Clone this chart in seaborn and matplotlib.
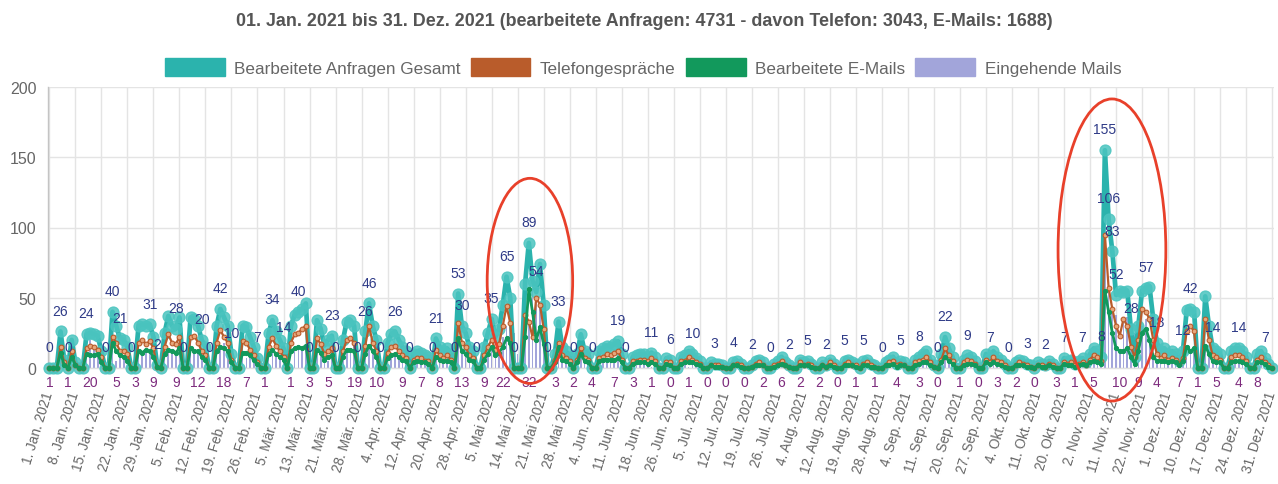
import numpy as np
import pandas as pd
import matplotlib
matplotlib.use("Agg")
import matplotlib.pyplot as plt
from matplotlib.patches import Ellipse, Patch
import seaborn as sns

title = "01. Jan. 2021 bis 31. Dez. 2021 (bearbeitete Anfragen: 4731 - davon Telefon: 3043, E-Mails: 1688)"
series_names = ["Bearbeitete Anfragen Gesamt", "Telefongespräche", "Bearbeitete E-Mails", "Eingehende Mails"]

tick_labels = [
    "1. Jan. 2021", "8. Jan. 2021", "15. Jan. 2021", "22. Jan. 2021", "29. Jan. 2021",
    "5. Feb. 2021", "12. Feb. 2021", "19. Feb. 2021", "26. Feb. 2021",
    "5. Mär. 2021", "13. Mär. 2021", "21. Mär. 2021", "28. Mär. 2021",
    "4. Apr. 2021", "12. Apr. 2021", "20. Apr. 2021", "28. Apr. 2021",
    "5. Mai 2021", "14. Mai 2021", "21. Mai 2021", "28. Mai 2021",
    "4. Jun. 2021", "11. Jun. 2021", "18. Jun. 2021", "26. Jun. 2021",
    "5. Jul. 2021", "12. Jul. 2021", "19. Jul. 2021", "26. Jul. 2021",
    "4. Aug. 2021", "12. Aug. 2021", "19. Aug. 2021", "28. Aug. 2021",
    "4. Sep. 2021", "11. Sep. 2021", "20. Sep. 2021", "27. Sep. 2021",
    "4. Okt. 2021", "11. Okt. 2021", "20. Okt. 2021",
    "2. Nov. 2021", "11. Nov. 2021", "22. Nov. 2021",
    "1. Dez. 2021", "10. Dez. 2021", "17. Dez. 2021", "24. Dez. 2021", "31. Dez. 2021",
]
tick_every = 7

gesamt = [
    0, 0, 0, 26, 6, 0, 20,
    4, 0, 0, 24, 25, 24, 23,
    12, 0, 0, 40, 30, 21, 20,
    15, 0, 0, 30, 31, 30, 31,
    22, 2, 0, 25, 37, 30, 28,
    36, 0, 0, 36, 35, 30, 20,
    15, 0, 0, 30, 42, 36, 30,
    10, 0, 0, 30, 29, 22, 15,
    7, 0, 0, 25, 34, 26, 20,
    14, 0, 30, 38, 40, 42, 46,
    0, 0, 34, 28, 16, 20, 23,
    0, 0, 20, 33, 34, 30, 0,
    0, 26, 46, 30, 20, 0, 0,
    18, 24, 26, 20, 15, 12, 0,
    10, 12, 11, 9, 8, 0, 21,
    15, 12, 14, 10, 0, 53, 30,
    25, 15, 12, 0, 0, 15, 25,
    35, 22, 28, 45, 65, 50, 0,
    0, 0, 60, 89, 62, 54, 74,
    45, 0, 0, 10, 33, 15, 12,
    8, 0, 10, 24, 12, 10, 0,
    0, 12, 14, 16, 15, 17, 19,
    10, 0, 0, 8, 9, 10, 10,
    8, 11, 8, 0, 0, 7, 6,
    0, 0, 8, 9, 12, 10, 7,
    5, 0, 0, 4, 3, 3, 2,
    0, 0, 4, 5, 3, 0, 0,
    2, 5, 6, 4, 0, 0, 3,
    5, 8, 4, 2, 0, 0, 6,
    4, 5, 3, 0, 0, 4, 2,
    6, 3, 0, 0, 5, 6, 4,
    3, 0, 5, 6, 3, 2, 0,
    0, 4, 6, 8, 3, 5, 4,
    0, 0, 6, 8, 10, 12, 6,
    2, 0, 10, 22, 14, 8, 0,
    0, 6, 9, 8, 5, 0, 0,
    10, 7, 12, 8, 6, 3, 0,
    0, 4, 6, 5, 3, 2, 0,
    4, 3, 2, 5, 3, 0, 0,
    7, 5, 6, 3, 5, 7, 4,
    10, 14, 12, 8, 155, 106, 83,
    52, 55, 54, 55, 28, 8, 30,
    55, 57, 58, 35, 18, 12, 14,
    10, 12, 10, 5, 12, 41, 42,
    40, 0, 0, 51, 30, 14, 12,
    10, 0, 0, 12, 14, 14, 12,
    8, 0, 0, 10, 12, 7, 3,
    0,
]

telefon = [
    0, 0, 0, 15, 4, 0, 12,
    2, 0, 0, 14, 16, 15, 13,
    8, 0, 0, 22, 18, 12, 12,
    10, 0, 0, 18, 20, 17, 19,
    14, 1, 0, 15, 24, 18, 17,
    22, 0, 0, 22, 23, 18, 12,
    9, 0, 0, 18, 27, 22, 18,
    6, 0, 0, 19, 18, 13, 9,
    4, 0, 0, 15, 21, 16, 12,
    8, 0, 18, 24, 25, 28, 30,
    0, 0, 21, 17, 10, 12, 14,
    0, 0, 12, 20, 21, 18, 0,
    0, 16, 30, 18, 12, 0, 0,
    11, 15, 16, 12, 9, 7, 0,
    6, 7, 7, 5, 5, 0, 13,
    9, 7, 9, 6, 0, 32, 18,
    15, 9, 7, 0, 0, 9, 15,
    20, 13, 17, 30, 44, 32, 0,
    0, 0, 38, 33, 22, 50, 45,
    28, 0, 0, 6, 18, 9, 7,
    5, 0, 6, 14, 7, 6, 0,
    0, 7, 8, 10, 9, 11, 12,
    6, 0, 0, 5, 5, 6, 6,
    5, 7, 5, 0, 0, 4, 4,
    0, 0, 5, 5, 8, 6, 4,
    3, 0, 0, 2, 2, 2, 1,
    0, 0, 2, 3, 2, 0, 0,
    1, 3, 4, 2, 0, 0, 2,
    3, 5, 2, 1, 0, 0, 4,
    2, 3, 2, 0, 0, 2, 1,
    4, 2, 0, 0, 3, 4, 2,
    2, 0, 3, 4, 2, 1, 0,
    0, 2, 4, 5, 2, 3, 2,
    0, 0, 4, 5, 6, 8, 4,
    1, 0, 6, 14, 9, 5, 0,
    0, 4, 6, 5, 3, 0, 0,
    6, 4, 8, 5, 4, 2, 0,
    0, 2, 4, 3, 2, 1, 0,
    2, 2, 1, 3, 2, 0, 0,
    4, 3, 4, 2, 3, 4, 2,
    6, 9, 8, 5, 95, 57, 42,
    30, 23, 35, 30, 15, 8, 20,
    42, 40, 35, 20, 10, 7, 9,
    6, 7, 6, 3, 7, 26, 30,
    26, 0, 0, 35, 20, 9, 8,
    6, 0, 0, 8, 9, 9, 8,
    5, 0, 0, 6, 8, 4, 2,
    0,
]

emails = [
    0, 0, 0, 11, 2, 0, 8,
    2, 0, 0, 10, 9, 9, 10,
    4, 0, 0, 18, 12, 9, 8,
    5, 0, 0, 12, 11, 13, 12,
    8, 1, 0, 10, 13, 12, 11,
    14, 0, 0, 14, 12, 12, 8,
    6, 0, 0, 12, 15, 14, 12,
    4, 0, 0, 11, 11, 9, 6,
    3, 0, 0, 10, 13, 10, 8,
    6, 0, 12, 14, 15, 14, 16,
    0, 0, 13, 11, 6, 8, 9,
    0, 0, 8, 13, 13, 12, 0,
    0, 10, 16, 12, 8, 0, 0,
    7, 9, 10, 8, 6, 5, 0,
    4, 5, 4, 4, 3, 0, 8,
    6, 5, 5, 4, 0, 21, 12,
    10, 6, 5, 0, 0, 6, 10,
    15, 9, 11, 15, 21, 18, 0,
    0, 0, 22, 56, 40, 20, 29,
    17, 0, 0, 4, 15, 6, 5,
    3, 0, 4, 10, 5, 4, 0,
    0, 5, 6, 6, 6, 6, 7,
    4, 0, 0, 3, 4, 4, 4,
    3, 4, 3, 0, 0, 3, 2,
    0, 0, 3, 4, 4, 4, 3,
    2, 0, 0, 2, 1, 1, 1,
    0, 0, 2, 2, 1, 0, 0,
    1, 2, 2, 2, 0, 0, 1,
    2, 3, 2, 1, 0, 0, 2,
    2, 2, 1, 0, 0, 2, 1,
    2, 1, 0, 0, 2, 2, 2,
    1, 0, 2, 2, 1, 1, 0,
    0, 2, 2, 3, 1, 2, 2,
    0, 0, 2, 3, 4, 4, 2,
    1, 0, 4, 8, 5, 3, 0,
    0, 2, 3, 3, 2, 0, 0,
    4, 3, 4, 3, 2, 1, 0,
    0, 2, 2, 2, 1, 1, 0,
    2, 1, 1, 2, 1, 0, 0,
    3, 2, 2, 1, 2, 3, 2,
    4, 5, 4, 3, 55, 40, 25,
    14, 12, 12, 14, 8, 3, 12,
    25, 28, 20, 8, 5, 5, 5,
    4, 5, 4, 2, 5, 15, 12,
    14, 0, 0, 16, 10, 5, 4,
    4, 0, 0, 4, 5, 5, 4,
    3, 0, 0, 4, 4, 3, 1,
    0,
]

eingehend = [
    1, 0, 0, 12, 5, 1, 10,
    3, 0, 0, 15, 20, 14, 12,
    6, 0, 0, 15, 5, 10, 9,
    6, 0, 3, 12, 10, 12, 11,
    9, 1, 0, 14, 12, 13, 9,
    12, 0, 0, 14, 12, 12, 10,
    8, 0, 0, 12, 15, 18, 12,
    6, 0, 0, 10, 7, 9, 6,
    4, 0, 1, 10, 12, 10, 8,
    6, 0, 1, 14, 15, 14, 16,
    3, 0, 12, 11, 6, 5, 9,
    0, 0, 8, 13, 13, 19, 0,
    0, 10, 16, 12, 10, 0, 0,
    7, 9, 10, 8, 9, 6, 0,
    4, 5, 7, 4, 3, 0, 8,
    8, 5, 5, 4, 0, 21, 13,
    10, 6, 5, 0, 0, 9, 10,
    15, 9, 11, 22, 30, 40, 25,
    10, 12, 55, 32, 56, 50, 45,
    30, 0, 0, 3, 15, 6, 5,
    3, 2, 4, 10, 5, 4, 4,
    0, 5, 6, 6, 6, 7, 7,
    4, 0, 0, 3, 4, 4, 4,
    3, 1, 3, 0, 0, 3, 0,
    0, 0, 3, 4, 1, 4, 3,
    2, 0, 0, 2, 1, 1, 1,
    0, 0, 2, 2, 1, 0, 0,
    1, 2, 2, 2, 0, 0, 1,
    2, 6, 2, 1, 0, 0, 2,
    2, 2, 1, 0, 2, 2, 1,
    2, 1, 0, 0, 2, 2, 2,
    1, 0, 2, 2, 1, 1, 0,
    0, 2, 2, 3, 4, 2, 2,
    0, 0, 2, 3, 4, 4, 2,
    1, 0, 4, 8, 5, 3, 0,
    1, 2, 3, 3, 2, 0, 0,
    4, 3, 4, 3, 2, 1, 0,
    0, 2, 2, 2, 1, 1, 0,
    2, 1, 1, 2, 1, 3, 0,
    3, 2, 2, 1, 2, 3, 2,
    4, 5, 4, 3, 95, 60, 40,
    38, 10, 35, 36, 30, 25, 9,
    30, 35, 20, 8, 4, 5, 5,
    4, 5, 4, 7, 5, 15, 12,
    14, 1, 0, 16, 10, 5, 5,
    4, 0, 0, 4, 5, 4, 4,
    3, 0, 0, 8, 4, 3, 1,
    0,
]

# which points carry a visible value label (the rest were hidden as overlapping)
gesamt_label_idx = [0, 3, 5, 10, 15, 17, 19, 22, 27, 29, 34, 36, 41, 43, 46, 49, 56, 60, 63, 67,
                    70, 76, 77, 83, 85, 86, 89, 93, 97, 103, 104, 109, 110, 111, 115, 119, 123,
                    125, 129, 131, 134, 137, 141, 146, 153, 155, 162, 167, 173, 179, 184, 189,
                    194, 199, 204, 209, 214, 219, 224, 229, 234, 239, 241, 247, 253, 258, 263,
                    268, 273, 278, 283, 284, 285, 286, 287, 291, 295, 298, 305, 307, 313, 320, 327]
eingehend_label_idx = [0, 5, 11, 18, 23, 28, 34, 40, 47, 53, 58, 65, 70, 75, 82, 88, 95, 100, 105,
                       111, 117, 122, 129, 136, 141, 146, 152, 157, 162, 167, 172, 177, 182, 187,
                       192, 197, 202, 207, 212, 217, 222, 228, 234, 239, 245, 250, 255, 260, 265,
                       271, 276, 281, 288, 293, 298, 304, 309, 314, 320, 325]

n = len(gesamt)
assert len(telefon) == n and len(emails) == n and len(eingehend) == n
assert (len(tick_labels) - 1) * tick_every + 1 == n

C_TEAL = "#2bb3ad"
C_TEAL_PT = (0.29, 0.77, 0.75, 0.85)
C_ORANGE = "#b95c2b"
C_GREEN = "#12995c"
C_PURPLE = "#a2a5da"
C_LBL_TOP = "#2e3a87"
C_LBL_BOT = "#7d2b7d"
C_TXT = "#666666"

sns.set_theme(style="whitegrid")
plt.rcParams["font.family"] = ["Liberation Sans", "DejaVu Sans"]

df = pd.DataFrame({
    "idx": np.arange(n),
    "gesamt": gesamt,
    "telefon": telefon,
    "emails": emails,
    "eingehend": eingehend,
})

W, H = 1278, 485
fig = plt.figure(figsize=(W / 100, H / 100), dpi=100)
fig.patch.set_facecolor("white")
ax_l, ax_r, ax_t, ax_b = 47.5, 1274, 88, 369
ax = fig.add_axes([ax_l / W, 1 - ax_b / H, (ax_r - ax_l) / W, (ax_b - ax_t) / H])
ax.set_facecolor("white")

sns.barplot(data=df, x="idx", y="eingehend", native_scale=True, width=0.45,
            color=C_PURPLE, saturation=1, linewidth=0, ax=ax, zorder=1)

sns.lineplot(data=df, x="idx", y="gesamt", color=C_TEAL, linewidth=3.4,
             marker="o", markersize=8.0, markerfacecolor=C_TEAL_PT,
             markeredgecolor=C_TEAL_PT, markeredgewidth=0.8, ax=ax, zorder=3,
             clip_on=False)
sns.lineplot(data=df, x="idx", y="telefon", color=C_ORANGE, linewidth=1.6,
             marker="o", markersize=3.4, markerfacecolor="#e7a77c",
             markeredgecolor=C_ORANGE, markeredgewidth=0.8, ax=ax, zorder=4,
             clip_on=False)
sns.lineplot(data=df, x="idx", y="emails", color=C_GREEN, linewidth=2.0,
             marker="o", markersize=3.0, markerfacecolor=C_GREEN,
             markeredgecolor=C_GREEN, ax=ax, zorder=5, clip_on=False)

ax.set_xlim(-0.5, n - 0.5)
ax.set_ylim(0, 200)
ax.set_yticks([0, 50, 100, 150, 200])
ax.set_xticks(np.arange(0, n, tick_every))
ax.set_xticklabels(tick_labels, rotation=73, ha="right", va="center",
                   rotation_mode="anchor", fontsize=9.8, color=C_TXT)
ax.tick_params(axis="x", pad=17, length=0)
ax.tick_params(axis="y", labelsize=11.5, labelcolor=C_TXT, pad=8, length=0)
ax.set_xlabel("")
ax.set_ylabel("")
ax.grid(True, color="#e4e4e4", linewidth=1.0)
ax.set_axisbelow(True)
for s in ["top", "right"]:
    ax.spines[s].set_visible(False)
ax.spines["left"].set_color("#c4c4c4")
ax.spines["left"].set_linewidth(1.0)
ax.spines["bottom"].set_color("#e0e0e0")
ax.spines["bottom"].set_linewidth(1.0)

for i in gesamt_label_idx:
    ax.annotate(str(gesamt[i]), (i, gesamt[i]), xytext=(0, 15), textcoords="offset points",
                ha="center", va="center", fontsize=10, color=C_LBL_TOP, zorder=6,
                annotation_clip=False)
for i in eingehend_label_idx:
    ax.annotate(str(eingehend[i]), (i, 0), xytext=(0, -10), textcoords="offset points",
                ha="center", va="center", fontsize=10, color=C_LBL_BOT, zorder=6,
                annotation_clip=False)

# red highlight ellipses drawn on the screenshot
ax.add_patch(Ellipse((129.3, 62), 23, 146, fill=False, edgecolor="#e8402a",
                     linewidth=2.0, clip_on=False, zorder=7))
ax.add_patch(Ellipse((285.9, 84), 29, 215, fill=False, edgecolor="#e8402a",
                     linewidth=2.0, clip_on=False, zorder=7))

fig.text(644 / W, 1 - 22 / H, title, ha="center", va="center",
         fontsize=12.9, fontweight="bold", color="#555555")

handles = [Patch(facecolor=C_TEAL, edgecolor=C_TEAL),
           Patch(facecolor=C_ORANGE, edgecolor=C_ORANGE),
           Patch(facecolor=C_GREEN, edgecolor=C_GREEN),
           Patch(facecolor=C_PURPLE, edgecolor=C_PURPLE)]
leg = fig.legend(handles, series_names, loc="center", bbox_to_anchor=(643 / W, 1 - 68 / H),
                 ncol=4, frameon=False, fontsize=12.3, handlelength=3.5, handleheight=1.3,
                 handletextpad=0.55, columnspacing=0.6)
for t in leg.get_texts():
    t.set_color(C_TXT)

fig.savefig("out.png", dpi=100, facecolor="white")
